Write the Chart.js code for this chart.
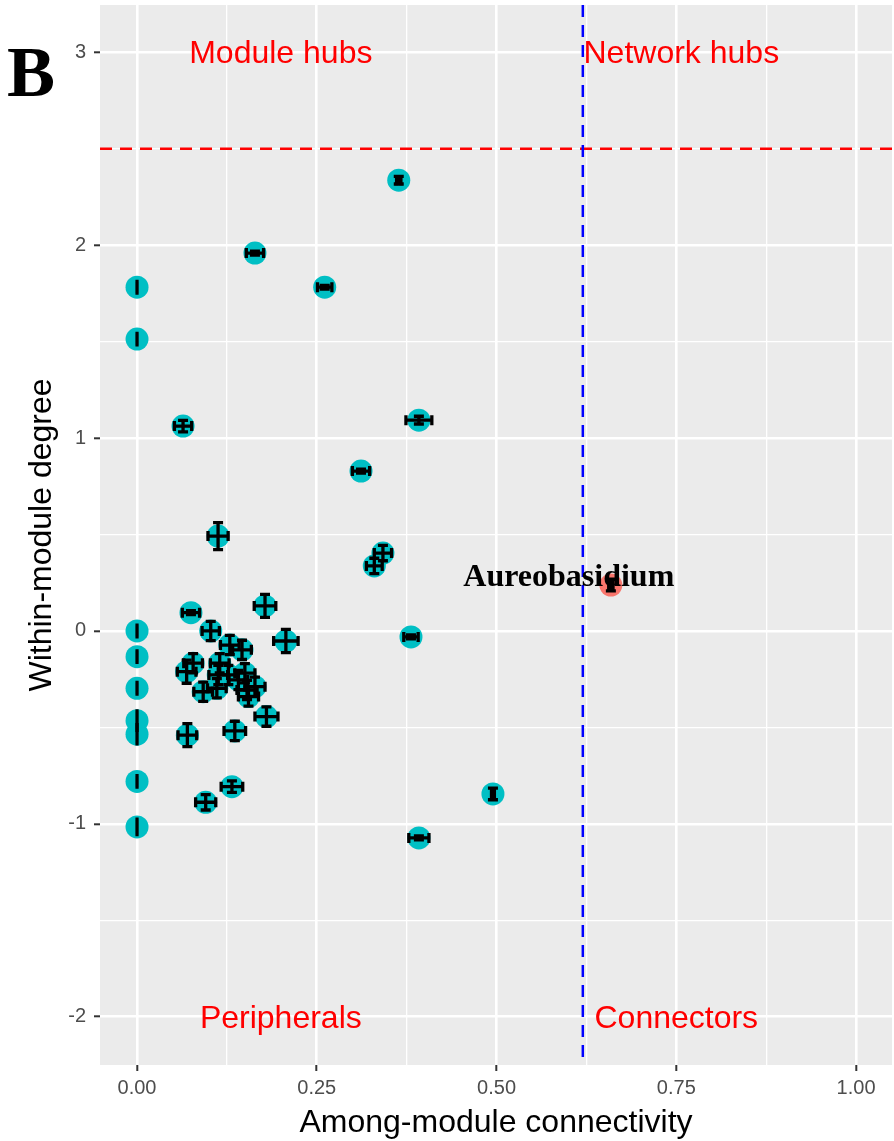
<!DOCTYPE html>
<html>
<head>
<meta charset="utf-8">
<title>Zi-Pi plot</title>
<script src="https://cdn.jsdelivr.net/npm/chart.js@4.4.1/dist/chart.umd.min.js"></script>
<style>
  html, body { margin: 0; padding: 0; background: #ffffff; }
  #wrap { width: 894px; height: 1141px; position: relative; }
</style>
</head>
<body>
<div id="wrap"><canvas id="zipiChart" width="894" height="1141"></canvas></div>
<script>
// Pontos (nós) da rede: conectividade entre módulos (Pi) e grau dentro do módulo (Zi)
const nodePi = [0.364, 0.164, 0.261, 0, 0, 0.064, 0.392, 0.3115, 0.1127, 0.342, 0.33, 0.381, 0.495, 0.392,
    0, 0, 0, 0, 0, 0, 0, 0.075, 0.1025, 0.178, 0.207, 0.07, 0.136, 0.18, 0.132, 0.0955,
    0.129, 0.146, 0.078, 0.069, 0.115, 0.113, 0.127, 0.150, 0.141, 0.092, 0.111, 0.153, 0.164, 0.155];
const nodeZi = [2.337, 1.959, 1.782, 1.782, 1.513, 1.062, 1.093, 0.829, 0.492, 0.404, 0.337, -0.031, -0.845, -1.073,
    -1.016, 0, -0.133, -0.297, -0.465, -0.535, -0.78, 0.095, 0.0, 0.13, -0.052, -0.54, -0.518, -0.444, -0.807, -0.888,
    -0.073, -0.098, -0.167, -0.211, -0.167, -0.228, -0.228, -0.219, -0.254, -0.315, -0.297, -0.306, -0.289, -0.34];
// Erros padrão
const nodePiErr = [0.003, 0.012, 0.01, 0, 0, 0.012, 0.018, 0.012, 0.014, 0.012, 0.011, 0.01, 0.002, 0.014,
    0, 0, 0, 0, 0, 0, 0, 0.012, 0.012, 0.015, 0.017, 0.013, 0.015, 0.016, 0.015, 0.014,
    0.013, 0.013, 0.013, 0.013, 0.013, 0.013, 0.013, 0.014, 0.013, 0.013, 0.013, 0.014, 0.014, 0.014];
const nodeZiErr = [0.02, 0.01, 0.01, 0.03, 0.03, 0.03, 0.02, 0.01, 0.07, 0.04, 0.04, 0.01, 0.03, 0.01,
    0.04, 0.03, 0.03, 0.03, 0.05, 0.05, 0.03, 0.01, 0.05, 0.06, 0.06, 0.06, 0.05, 0.05, 0.03, 0.04,
    0.05, 0.05, 0.05, 0.06, 0.05, 0.05, 0.05, 0.05, 0.05, 0.05, 0.05, 0.05, 0.05, 0.05];

// Nó destacado (conector)
const keyName = 'Aureobasidium';
const keyPi = [0.659];
const keyZi = [0.238];
const keyPiErr = [0.003];
const keyZiErr = [0.03];
const keyLabelPos = [0.6005, 0.275];

// Limiares
const ziThreshold = 2.5;
const piThreshold = 0.62;

// Rótulos dos quadrantes
const quadrantNames = ['Module hubs', 'Network hubs', 'Peripherals', 'Connectors'];
const quadrantPi = [0.2, 0.757, 0.2, 0.75];
const quadrantZi = [2.99, 2.99, -2.01, -2.01];

// Ticks dos eixos (principais e secundários)
const xTicks = [0, 0.125, 0.25, 0.375, 0.5, 0.625, 0.75, 0.875, 1];
const yTicks = [-2, -1.5, -1, -0.5, 0, 0.5, 1, 1.5, 2, 2.5, 3];
const xMajor = [0, 0.25, 0.5, 0.75, 1];
const yMajor = [-2, -1, 0, 1, 2, 3];

function isMajor(list, v) {
    return list.some(m => Math.abs(m - v) < 1e-9);
}

function toPoints(xs, ys) {
    return xs.map((x, i) => ({ x: x, y: ys[i] }));
}

const SANS = '"Liberation Sans", Arial, Helvetica, sans-serif';
const SERIF = '"Liberation Serif", "Times New Roman", serif';

// Fundo cinza do painel
const panelBg = {
    id: 'panelBg',
    beforeDraw(chart) {
        const a = chart.chartArea, ctx = chart.ctx;
        ctx.save();
        ctx.fillStyle = '#EBEBEB';
        ctx.fillRect(a.left, a.top, a.right - a.left, a.bottom - a.top);
        ctx.restore();
    }
};

// Barras de erro, linhas de limiar e textos
const extras = {
    id: 'extras',
    afterDatasetsDraw(chart) {
        const ctx = chart.ctx, xs = chart.scales.x, ys = chart.scales.y, a = chart.chartArea;
        ctx.save();

        // barras de erro
        chart.data.datasets.forEach(ds => {
            ds.data.forEach((p, i) => {
                const cx = xs.getPixelForValue(p.x), cy = ys.getPixelForValue(p.y);
                const ex = ds.errX[i], ey = ds.errY[i];
                ctx.strokeStyle = '#000';
                ctx.lineWidth = 3.3;
                ctx.lineCap = 'butt';
                // vertical
                const y1 = ys.getPixelForValue(p.y - ey), y2 = ys.getPixelForValue(p.y + ey);
                const capV = ex > 0 ? 5 : 1.6;
                ctx.beginPath();
                ctx.moveTo(cx, y1); ctx.lineTo(cx, y2);
                ctx.moveTo(cx - capV, y1); ctx.lineTo(cx + capV, y1);
                ctx.moveTo(cx - capV, y2); ctx.lineTo(cx + capV, y2);
                ctx.stroke();
                // horizontal
                if (ex > 0) {
                    const x1 = xs.getPixelForValue(p.x - ex), x2 = xs.getPixelForValue(p.x + ex);
                    const capH = 5;
                    ctx.beginPath();
                    ctx.moveTo(x1, cy); ctx.lineTo(x2, cy);
                    ctx.moveTo(x1, cy - capH); ctx.lineTo(x1, cy + capH);
                    ctx.moveTo(x2, cy - capH); ctx.lineTo(x2, cy + capH);
                    ctx.stroke();
                }
            });
        });

        // linhas tracejadas de limiar
        ctx.lineWidth = 2.5;
        ctx.setLineDash([12, 8]);
        ctx.strokeStyle = '#FF0000';
        const hy = ys.getPixelForValue(ziThreshold);
        ctx.beginPath(); ctx.moveTo(a.left, hy); ctx.lineTo(a.right, hy); ctx.stroke();
        ctx.strokeStyle = '#0000FF';
        const vx = xs.getPixelForValue(piThreshold);
        ctx.beginPath(); ctx.moveTo(vx, a.top); ctx.lineTo(vx, a.bottom); ctx.stroke();
        ctx.setLineDash([]);

        // rótulos dos quadrantes
        ctx.fillStyle = '#FF0000';
        ctx.font = '32px ' + SANS;
        ctx.textAlign = 'center';
        ctx.textBaseline = 'middle';
        quadrantNames.forEach((t, i) => {
            ctx.fillText(t, xs.getPixelForValue(quadrantPi[i]), ys.getPixelForValue(quadrantZi[i]));
        });

        // rótulo do nó destacado
        ctx.fillStyle = '#000';
        ctx.font = 'bold 32px ' + SERIF;
        ctx.fillText(keyName, xs.getPixelForValue(keyLabelPos[0]), ys.getPixelForValue(keyLabelPos[1]));

        // letra do painel
        ctx.font = 'bold 72px ' + SERIF;
        ctx.textAlign = 'left';
        ctx.textBaseline = 'alphabetic';
        ctx.fillText('B', 7, 96);

        ctx.restore();
    }
};

function gridWidth(major) {
    return ctx => (isMajor(major, ctx.tick.value) ? 2.6 : 1.3);
}
function tickCol(major) {
    return ctx => (isMajor(major, ctx.tick.value) ? '#333333' : 'rgba(0,0,0,0)');
}

document.addEventListener('DOMContentLoaded', function() {
    const canvas = document.getElementById('zipiChart');

    new Chart(canvas, {
        type: 'scatter',
        data: {
            datasets: [{
                label: 'Nodes',
                data: toPoints(nodePi, nodeZi),
                errX: nodePiErr,
                errY: nodeZiErr,
                backgroundColor: '#00BFC4',
                borderWidth: 0,
                pointRadius: 11.5,
                pointHoverRadius: 11.5
            }, {
                label: keyName,
                data: toPoints(keyPi, keyZi),
                errX: keyPiErr,
                errY: keyZiErr,
                backgroundColor: '#F8766D',
                borderWidth: 0,
                pointRadius: 11.5,
                pointHoverRadius: 11.5
            }]
        },
        options: {
            responsive: false,
            animation: false,
            events: [],
            layout: { autoPadding: false, padding: { left: 0, right: 2, top: 5, bottom: 0 } },
            plugins: {
                legend: { display: false },
                tooltip: { enabled: false }
            },
            scales: {
                x: {
                    type: 'linear',
                    min: -0.0515,
                    max: 1.05,
                    afterBuildTicks: s => { s.ticks = xTicks.map(v => ({ value: v })); },
                    afterFit: s => { s.height = 76; s.paddingLeft = 0; s.paddingRight = 0; },
                    border: { display: false },
                    grid: {
                        color: '#FFFFFF',
                        lineWidth: gridWidth(xMajor),
                        drawTicks: true,
                        tickLength: 6,
                        tickColor: tickCol(xMajor),
                        tickWidth: 2
                    },
                    ticks: {
                        autoSkip: false,
                        maxRotation: 0,
                        padding: 5,
                        color: '#4D4D4D',
                        font: { family: SANS, size: 20 },
                        callback: v => (isMajor(xMajor, v) ? v.toFixed(2) : '')
                    },
                    title: {
                        display: true,
                        text: 'Among-module connectivity',
                        color: '#000',
                        font: { family: SANS, size: 32, lineHeight: 1 },
                        padding: { top: 0, bottom: 2 }
                    }
                },
                y: {
                    type: 'linear',
                    min: -2.25,
                    max: 3.245,
                    afterBuildTicks: s => { s.ticks = yTicks.map(v => ({ value: v })); },
                    afterFit: s => { s.width = 100; s.paddingTop = 0; s.paddingBottom = 0; },
                    border: { display: false },
                    grid: {
                        color: '#FFFFFF',
                        lineWidth: gridWidth(yMajor),
                        drawTicks: true,
                        tickLength: 6,
                        tickColor: tickCol(yMajor),
                        tickWidth: 2
                    },
                    ticks: {
                        autoSkip: false,
                        padding: 8,
                        color: '#4D4D4D',
                        font: { family: SANS, size: 20 },
                        callback: v => (isMajor(yMajor, v) ? String(v) : '')
                    },
                    title: {
                        display: true,
                        text: 'Within-module degree',
                        color: '#000',
                        font: { family: SANS, size: 32, lineHeight: 1 },
                        padding: { top: 26, bottom: 0 }
                    }
                }
            }
        },
        plugins: [panelBg, extras]
    });
});
</script>
</body>
</html>
